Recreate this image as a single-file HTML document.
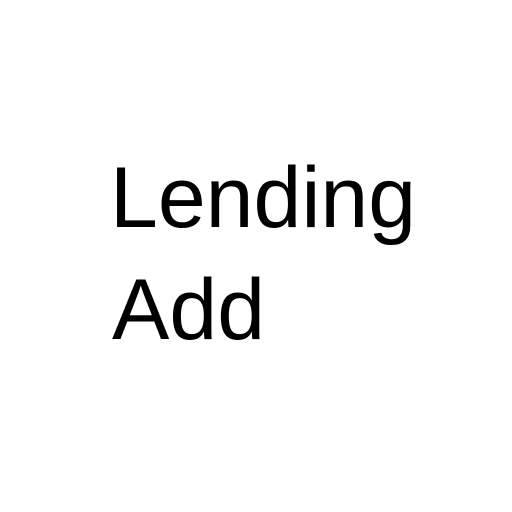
<!DOCTYPE html>
<html>
<head>
<meta charset="utf-8">
<style>
html,body{margin:0;padding:0;background:#fff;}
body{width:512px;height:512px;position:relative;overflow:hidden;}
.t{position:absolute;font-family:"Liberation Sans",sans-serif;font-size:86px;line-height:86px;color:#000;white-space:nowrap;}
</style>
</head>
<body>
<div class="t" style="left:110px;top:155px;">Lending</div>
<div class="t" style="left:112px;top:267px;">Add</div>
</body>
</html>
